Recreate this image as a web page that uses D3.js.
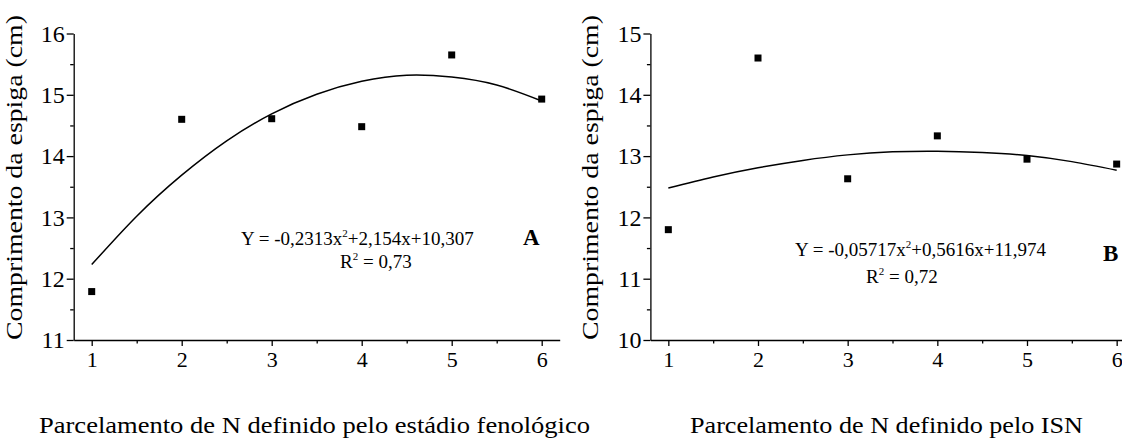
<!DOCTYPE html>
<html>
<head>
<meta charset="utf-8">
<script src="https://cdn.jsdelivr.net/npm/d3@7"></script>
<style>
    body { margin: 0; background: #fff; }
    svg text { font-family: "Liberation Serif", "Times New Roman", serif; fill: #000; }
</style>
</head>
<body>
<div id="chart"></div>
<script>
// Data
const parcelamentos = [1, 2, 3, 4, 5, 6];
const comprimentoA = [11.79, 14.60, 14.61, 14.48, 15.65, 14.93];
const comprimentoB = [11.80, 14.60, 12.63, 13.33, 12.95, 12.87];

// Fitted curves
const curvaX = [1, 1.5, 2, 2.5, 3, 3.5, 4, 4.5, 5, 5.5, 6];
const curvaA = [12.23, 13.02, 13.69, 14.25, 14.69, 15.01, 15.22, 15.32, 15.29, 15.16, 14.90];
const curvaB = [12.48, 12.66, 12.81, 12.93, 13.02, 13.07, 13.08, 13.06, 13.01, 12.91, 12.77];

const xTicks = [1, 2, 3, 4, 5, 6];
const xMinor = [1.5, 2.5, 3.5, 4.5, 5.5];
const yTicksA = [11, 12, 13, 14, 15, 16];
const yTicksB = [10, 11, 12, 13, 14, 15];

const eqA = ['Y = -0,2313x', '+2,154x+10,307', 'R', ' = 0,73'];
const eqB = ['Y = -0,05717x', '+0,5616x+11,974', 'R', ' = 0,72'];

const yTitle = 'Comprimento da espiga (cm)';
const xTitleA = 'Parcelamento de N definido pelo estádio fenológico';
const xTitleB = 'Parcelamento de N definido pelo ISN';

const width = 1122;
const height = 439;
const serif = '"Liberation Serif", "Times New Roman", serif';

const svg = d3.select('#chart')
    .append('svg')
    .attr('width', width)
    .attr('height', height)
    .style('display', 'block');

function drawPanel(opt) {
    const x = d3.scaleLinear().domain([0.8, 6.2]).range(opt.xRange);
    const y = d3.scaleLinear().domain(opt.yDomain).range([340, 33.5]);
    const yMinor = d3.range(opt.yDomain[0] + 0.5, opt.yDomain[1], 1);

    const g = svg.append('g');

    // Bottom axis
    const xAxis = g.append('g')
        .attr('transform', 'translate(0,340)')
        .call(d3.axisBottom(x).tickValues(xTicks).tickSize(6).tickSizeOuter(0).tickPadding(5.4).tickFormat(d3.format('d')));
    xAxis.attr('font-family', serif);
    xAxis.selectAll('text').style('font-size', '22px');

    g.append('g')
        .attr('transform', 'translate(0,340)')
        .call(d3.axisBottom(x).tickValues(xMinor).tickSize(3.5).tickFormat(''))
        .select('.domain').remove();

    // Left axis
    const yAxis = g.append('g')
        .attr('transform', `translate(${opt.xRange[0]},0)`)
        .call(d3.axisLeft(y).tickValues(opt.yTicks).tickSize(7).tickSizeOuter(0).tickPadding(2).tickFormat(d3.format('d')));
    yAxis.attr('font-family', serif);
    yAxis.selectAll('text').style('font-size', '24px');

    g.append('g')
        .attr('transform', `translate(${opt.xRange[0]},0)`)
        .call(d3.axisLeft(y).tickValues(yMinor).tickSize(3.5).tickFormat(''))
        .select('.domain').remove();

    g.selectAll('.domain, .tick line')
        .attr('stroke', '#000')
        .attr('stroke-width', 1.3);

    // Fitted curve
    const line = d3.line()
        .x((d, i) => x(curvaX[i]))
        .y(d => y(d))
        .curve(d3.curveNatural);

    g.append('path')
        .datum(opt.curve)
        .attr('fill', 'none')
        .attr('stroke', '#000')
        .attr('stroke-width', 1.5)
        .attr('d', line);

    // Observed points
    g.selectAll('rect.pt')
        .data(opt.values)
        .join('rect')
        .attr('class', 'pt')
        .attr('x', (d, i) => x(parcelamentos[i]) - 3.5)
        .attr('y', d => y(d) - 3.5)
        .attr('width', 7)
        .attr('height', 7)
        .attr('fill', '#000');

    // Equation
    const l1 = g.append('text')
        .attr('x', opt.eqPos[0])
        .attr('y', opt.eqPos[1])
        .style('font-size', '19px');
    l1.append('tspan').text(opt.eq[0]);
    l1.append('tspan').attr('dy', -8).style('font-size', '11px').text('2');
    l1.append('tspan').attr('dy', 8).text(opt.eq[1]);

    const l2 = g.append('text')
        .attr('x', opt.r2Pos[0])
        .attr('y', opt.r2Pos[1])
        .style('font-size', '19px');
    l2.append('tspan').text(opt.eq[2]);
    l2.append('tspan').attr('dy', -8).style('font-size', '11px').text('2');
    l2.append('tspan').attr('dy', 8).text(opt.eq[3]);

    // Panel letter
    g.append('text')
        .attr('x', opt.letterPos[0])
        .attr('y', opt.letterPos[1])
        .style('font-size', '23px')
        .style('font-weight', 'bold')
        .text(opt.letter);

    // Axis titles
    g.append('text')
        .attr('transform', `translate(${opt.yTitleX},177.5) rotate(-90)`)
        .attr('text-anchor', 'middle')
        .attr('textLength', 325)
        .attr('lengthAdjust', 'spacingAndGlyphs')
        .style('font-size', '24px')
        .text(yTitle);

    g.append('text')
        .attr('x', opt.xTitle[1])
        .attr('y', 433)
        .attr('textLength', opt.xTitle[2])
        .attr('lengthAdjust', 'spacingAndGlyphs')
        .style('font-size', '24px')
        .text(opt.xTitle[0]);
}

drawPanel({
    xRange: [73.7, 559.7],
    yDomain: [11, 16],
    yTicks: yTicksA,
    values: comprimentoA,
    curve: curvaA,
    eq: eqA,
    eqPos: [241, 245],
    r2Pos: [340, 268],
    letter: 'A',
    letterPos: [523, 245],
    yTitleX: 22,
    xTitle: [xTitleA, 39, 551]
});

drawPanel({
    xRange: [650.4, 1134.6],
    yDomain: [10, 15],
    yTicks: yTicksB,
    values: comprimentoB,
    curve: curvaB,
    eq: eqB,
    eqPos: [795, 256],
    r2Pos: [866, 283],
    letter: 'B',
    letterPos: [1103, 261],
    yTitleX: 598,
    xTitle: [xTitleB, 690, 393]
});
</script>
</body>
</html>
